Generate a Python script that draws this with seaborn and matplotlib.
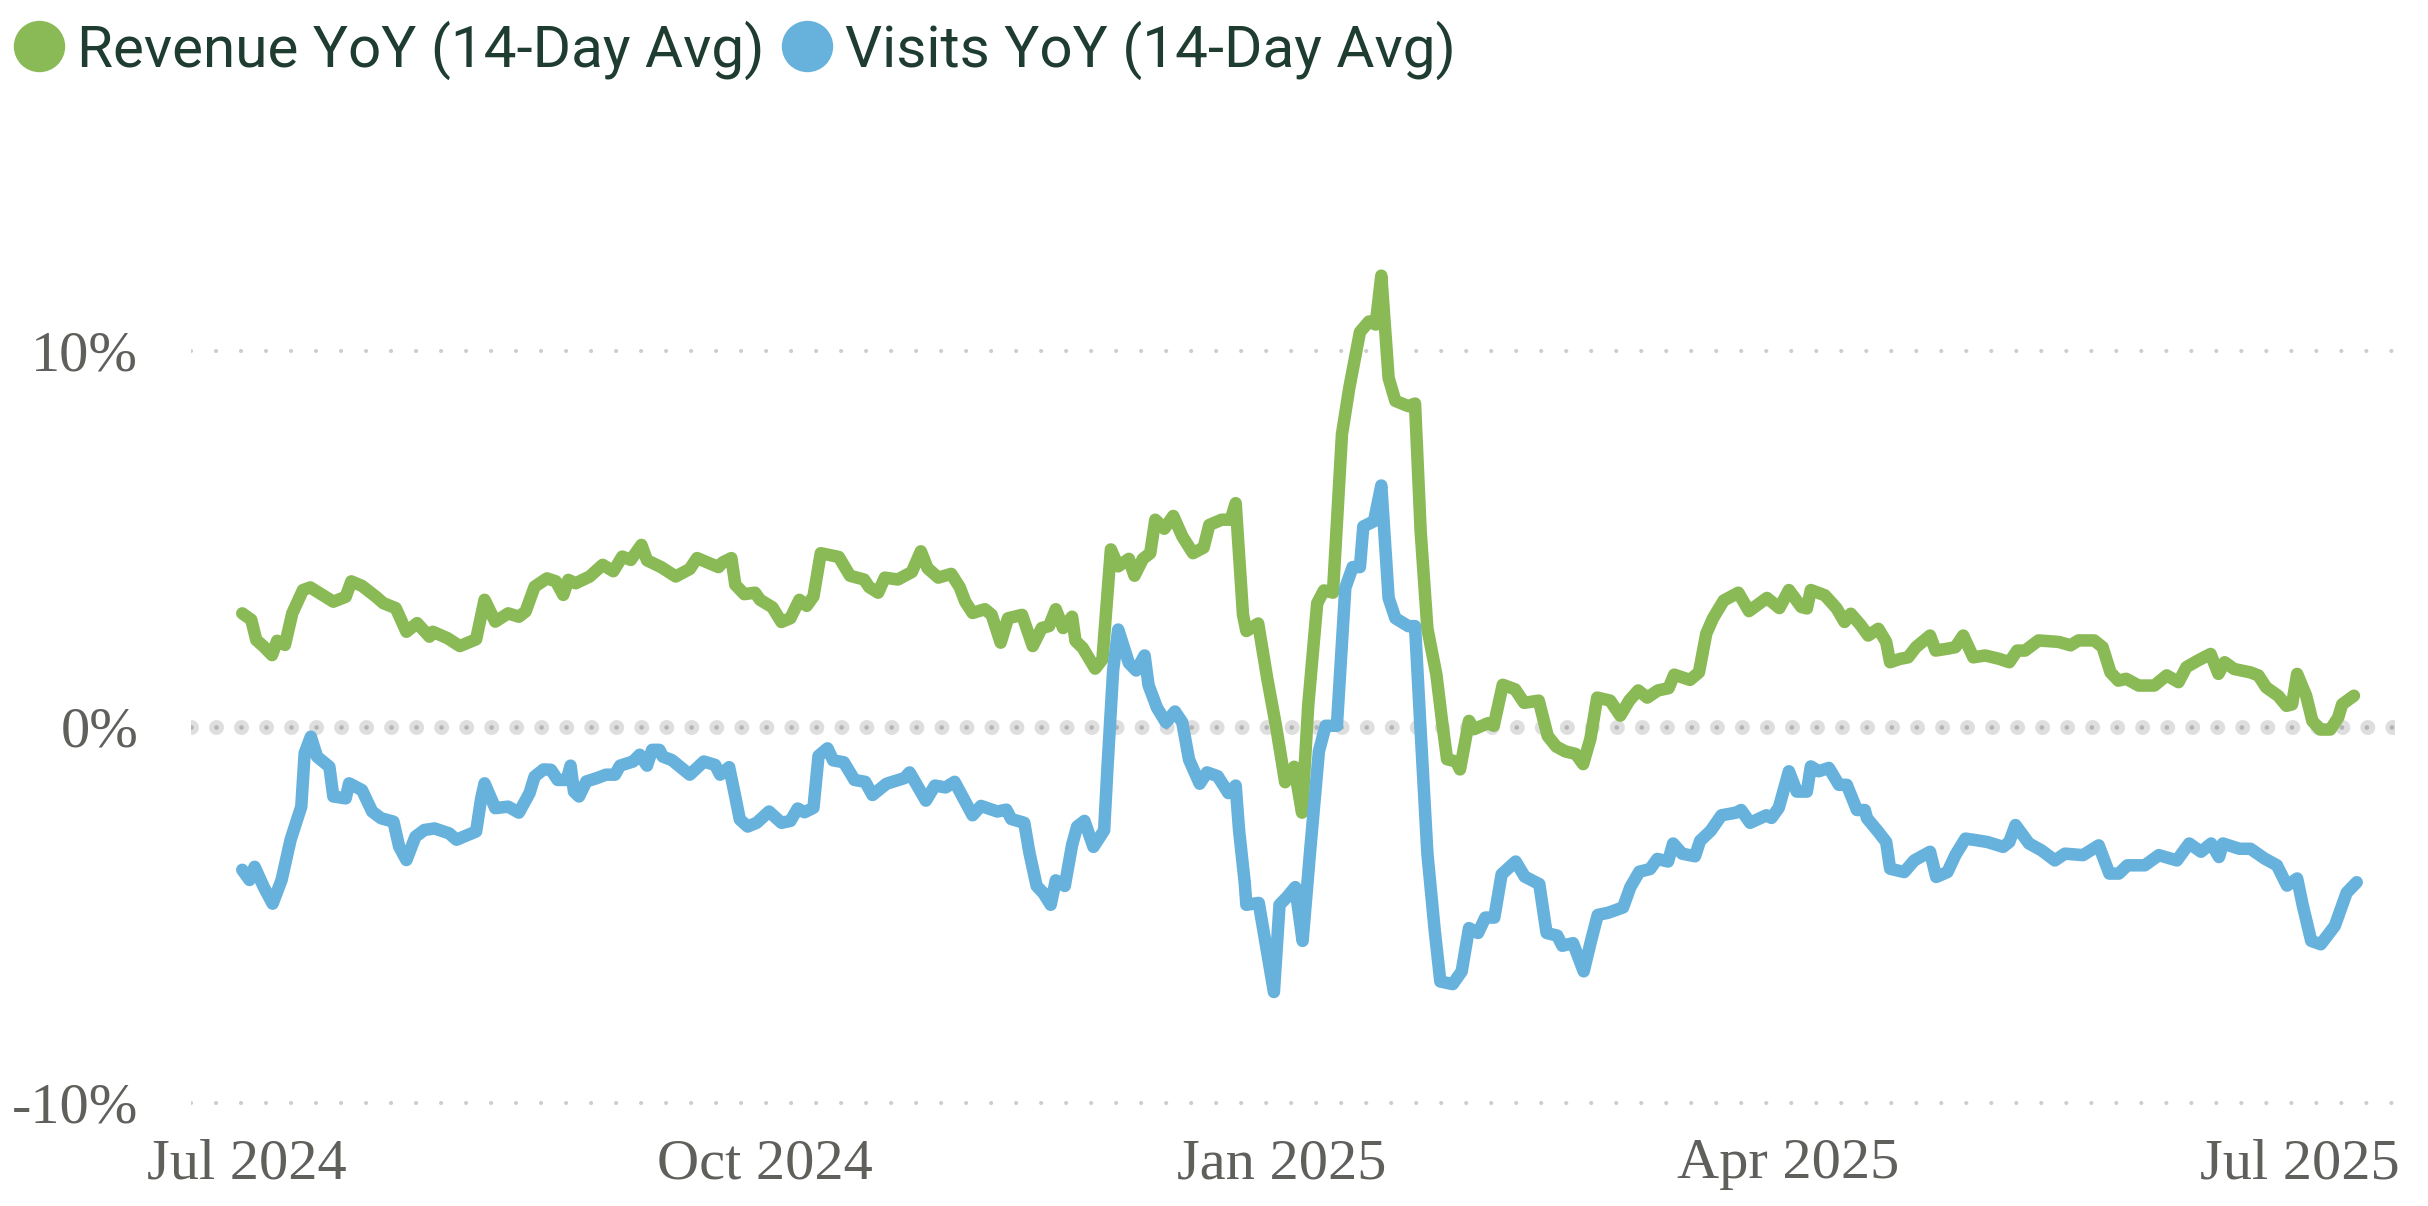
import pandas as pd
import matplotlib.pyplot as plt
import matplotlib.dates as mdates
import matplotlib.ticker as mticker
import seaborn as sns
from matplotlib.lines import Line2D

# Datos (dia = dias desde 2024-07-01, valores en %)
start = pd.Timestamp('2024-07-01')

rev_day = [-0.9, 0.7, 1.6, 2.9, 4.4, 5.3, 6.7, 8.0, 9.9, 11.2, 15.3, 17.5, 18.5, 20.4,
           22.9, 24.2, 26.4, 28.3, 30.2, 32.4, 33.0, 35.6, 37.8, 40.7, 42.2, 44.1, 46.4,
           48.3, 49.5, 51.1, 53.3, 54.9, 56.2, 57.1, 58.4, 60.9, 63.2, 65.1, 66.7, 68.2,
           70.1, 71.1, 73.6, 76.2, 78.7, 80.0, 83.8, 84.5, 86.1, 86.8, 88.4, 90.3, 91.2,
           93.4, 95.0, 96.6, 98.2, 99.5, 100.7, 102.0, 103.6, 105.2, 107.2, 109.7, 110.6,
           112.2, 113.4, 115.7, 118.2, 119.8, 121.0, 122.9, 125.2, 126.7, 127.7, 129.0,
           131.2, 132.4, 134.0, 135.3, 137.8, 139.7, 141.3, 142.6, 143.8, 145.1, 146.7,
           147.3, 148.6, 150.8, 152.1, 153.6, 154.9, 156.8, 157.8, 159.3, 160.6, 161.5,
           163.1, 164.7, 166.3, 168.2, 170.1, 171.1, 173.3, 174.9, 175.8, 177.1, 177.7,
           179.8, 181.4, 183.0, 184.6, 186.2, 187.6, 188.7, 190.3, 191.5, 193.1, 194.7,
           196.0, 197.9, 199.5, 200.7, 201.7, 203.0, 204.2, 206.5, 207.7, 208.7, 209.9,
           211.5, 212.5, 213.4, 215.0, 215.7, 217.3, 218.2, 220.7, 221.7, 223.3, 225.5,
           227.1, 229.7, 231.3, 232.8, 234.4, 236.3, 237.6, 238.9, 240.1, 242.4, 244.2,
           245.8, 247.4, 249.0, 250.9, 252.8, 253.8, 256.6, 258.2, 259.5, 260.7, 262.6,
           265.2, 267.1, 270.3, 272.5, 274.2, 276.4, 277.4, 278.1, 280.6, 282.7, 284.1,
           285.2, 287.0, 288.3, 290.1, 291.5, 292.2, 294.0, 295.4, 296.8, 299.3, 300.3,
           302.4, 303.8, 305.2, 307.0, 309.1, 311.6, 313.4, 314.8, 316.2, 318.6, 322.2,
           324.3, 325.7, 328.5, 330.0, 331.4, 332.8, 334.2, 336.4, 339.2, 341.4, 343.5,
           344.9, 347.0, 349.2, 350.6, 351.7, 353.4, 356.3, 357.7, 359.1, 361.2, 362.7,
           363.7, 364.6, 366.2, 367.3, 368.7, 370.5, 371.9, 372.6, 374.7]
rev_yoy = [3.02, 2.85, 2.31, 2.14, 1.91, 2.29, 2.18, 3.02, 3.64, 3.71, 3.33, 3.46, 3.87, 3.75,
           3.46, 3.29, 3.16, 2.53, 2.76, 2.40, 2.53, 2.36, 2.15, 2.33, 3.38, 2.80, 3.02,
           2.93, 3.07, 3.73, 3.95, 3.87, 3.51, 3.91, 3.82, 4.00, 4.31, 4.14, 4.53, 4.44,
           4.84, 4.43, 4.25, 4.00, 4.20, 4.49, 4.25, 4.37, 4.49, 3.78, 3.53, 3.57, 3.38,
           3.18, 2.79, 2.89, 3.38, 3.22, 3.47, 4.62, 4.57, 4.52, 4.02, 3.92, 3.72,
           3.57, 3.97, 3.92, 4.12, 4.67, 4.22, 3.97, 4.07, 3.72, 3.33, 3.03,
           3.13, 2.98, 2.24, 2.89, 2.98, 2.15, 2.63, 2.68, 3.13, 2.63, 2.93,
           2.29, 2.10, 1.55, 1.80, 4.72, 4.27, 4.47, 4.02, 4.47, 4.62, 5.51,
           5.27, 5.61, 5.07, 4.62, 4.77, 5.37, 5.51, 5.51, 5.95, 2.98, 2.55,
           2.75, 1.30, 0.00, -1.47, -1.06, -2.28, 0.57, 3.29, 3.63, 3.57, 7.78,
           9.01, 10.50, 10.78, 10.70, 12.00, 9.28, 8.67, 8.53, 8.60, 5.20, 2.61,
           1.39, 0.16, -0.86, -0.92, -1.13, 0.16, -0.06, 0.10, 0.03, 1.12, 1.00,
           0.64, 0.70, -0.24, -0.52, -0.65, -0.72, -0.99, -0.31, 0.78, 0.70, 0.30,
           0.70, 0.97, 0.78, 0.97, 1.03, 1.39, 1.25, 1.45, 2.48, 2.89, 3.36,
           3.57, 3.08, 3.43, 3.16, 3.64, 3.19, 3.15, 3.64, 3.50, 3.15, 2.79,
           3.01, 2.70, 2.43, 2.61, 2.26, 1.72, 1.81, 1.85, 2.12, 2.43, 2.03,
           2.08, 2.12, 2.43, 1.85, 1.90, 1.81, 1.72, 2.03, 2.03, 2.30, 2.26,
           2.17, 2.30, 2.30, 2.12, 1.45, 1.23, 1.28, 1.10, 1.10, 1.37, 1.19,
           1.59, 1.77, 1.94, 1.41, 1.72, 1.54, 1.45, 1.37, 1.05, 0.83, 0.56,
           0.60, 1.41, 0.83, 0.16, -0.07, -0.07, 0.25, 0.60, 0.83]

vis_day = [-0.9, 0.4, 1.3, 2.9, 4.5, 6.1, 7.7, 9.6, 10.2, 11.3, 12.4, 14.6, 15.3, 17.5,
           18.1, 20.4, 22.2, 23.8, 26.0, 27.0, 28.3, 29.9, 31.5, 33.3, 35.9, 37.2, 40.7,
           41.6, 42.2, 44.1, 46.4, 48.3, 50.2, 51.1, 52.7, 54.0, 55.2, 56.8, 57.5, 58.1,
           59.0, 60.3, 62.2, 63.8, 65.4, 66.3, 68.6, 69.8, 71.1, 72.0, 73.3, 73.9, 75.5,
           78.7, 81.2, 83.2, 84.1, 85.7, 86.8, 87.6, 89.0, 90.6, 92.8, 95.0, 96.6, 97.9,
           99.1, 100.7, 101.6, 103.2, 104.2, 106.1, 108.0, 109.9, 111.2, 113.7, 116.9,
           117.8, 120.7, 122.3, 124.2, 125.8, 126.7, 129.0, 130.5, 133.4, 135.0, 135.9,
           138.2, 139.1, 140.4, 141.6, 142.9, 143.8, 145.4, 146.7, 147.6, 148.9, 150.5,
           152.4, 153.0, 154.0, 154.9, 156.8, 158.1, 159.6, 160.3, 161.8, 163.4, 165.0,
           166.3, 167.5, 169.4, 170.7, 172.6, 174.5, 175.8, 176.4, 177.4, 177.7, 179.9,
           181.3, 182.6, 183.6, 184.9, 186.4, 187.7, 189.0, 190.6, 191.8, 193.8, 195.3,
           196.6, 197.9, 198.5, 200.4, 201.7, 202.3, 203.0, 204.2, 206.5, 207.7, 208.7,
           209.9, 211.2, 212.2, 214.4, 216.0, 217.3, 218.9, 220.2, 221.8, 223.1, 225.6,
           227.2, 229.8, 231.1, 233.0, 233.9, 235.8, 237.7, 239.0, 240.2, 242.1, 244.7,
           246.0, 247.6, 249.5, 250.8, 252.7, 253.6, 255.2, 257.5, 258.4, 260.3, 262.2,
           264.8, 265.7, 267.3, 270.2, 271.1, 272.4, 274.2, 275.6, 277.4, 278.1, 279.5,
           281.3, 283.1, 284.5, 286.3, 287.7, 288.1, 290.1, 291.5, 292.2, 294.7, 296.5,
           299.3, 300.4, 302.4, 303.8, 305.6, 307.4, 309.5, 312.3, 313.4, 314.5, 316.9,
           319.1, 321.5, 323.3, 326.5, 329.3, 331.2, 332.9, 334.4, 337.5, 340.0, 343.2,
           345.4, 347.5, 349.3, 350.7, 351.4, 354.3, 356.3, 358.8, 361.0, 362.8, 364.6,
           365.6, 367.1, 368.8, 371.3, 373.4, 375.2]
vis_yoy = [-3.80, -4.07, -3.72, -4.25, -4.70, -4.07, -3.00, -2.12, -0.70, -0.26, -0.79, -1.06, -1.85, -1.90,
           -1.50, -1.68, -2.25, -2.43, -2.52, -3.18, -3.54, -2.92, -2.74, -2.70, -2.83, -3.00, -2.78,
           -1.90, -1.50, -2.16, -2.12, -2.28, -1.76, -1.32, -1.13, -1.14, -1.41, -1.41, -1.03, -1.72,
           -1.85, -1.45, -1.36, -1.27, -1.27, -1.03, -0.92, -0.74, -1.03, -0.61, -0.61, -0.79, -0.88,
           -1.27, -0.92, -1.01, -1.27, -1.07, -1.86, -2.46, -2.65, -2.55, -2.25, -2.55, -2.50, -2.17,
           -2.27, -2.15, -0.77, -0.57, -0.89, -0.94, -1.41, -1.46, -1.81, -1.51, -1.36,
           -1.21, -1.96, -1.56, -1.61, -1.46, -1.71, -2.35, -2.10, -2.25, -2.20, -2.45,
           -2.55, -3.34, -4.23, -4.42, -4.73, -4.08, -4.23, -3.14, -2.65, -2.50, -3.19,
           -2.75, -1.07, 1.50, 2.59, 1.70, 1.50, 1.90, 1.11, 0.51, 0.12, 0.41,
           0.12, -0.87, -1.51, -1.21, -1.31, -1.76, -1.56, -2.75, -4.13, -4.73, -4.68,
           -5.90, -7.05, -4.73, -4.53, -4.26, -5.69, -3.37, -0.65, 0.03, 0.03, 3.70,
           4.25, 4.25, 5.33, 5.47, 6.42, 5.06, 3.43, 2.89, 2.68, 2.68, -0.11,
           -3.37, -5.41, -6.77, -6.84, -6.50, -5.35, -5.48, -5.07, -5.07, -3.92, -3.58,
           -3.98, -4.18, -5.48, -5.55, -5.82, -5.75, -6.50, -5.69, -5.00, -4.94, -4.80,
           -4.26, -3.85, -3.78, -3.51, -3.58, -3.10, -3.37, -3.44, -3.03, -2.76, -2.35,
           -2.28, -2.21, -2.55, -2.35, -2.42, -2.15, -1.18, -1.72, -1.72, -1.05, -1.18,
           -1.09, -1.54, -1.54, -2.21, -2.21, -2.43, -2.79, -3.06, -3.77, -3.86, -3.55,
           -3.32, -3.99, -3.86, -3.41, -2.97, -3.01, -3.06, -3.19, -3.06, -2.61, -3.10,
           -3.28, -3.55, -3.37, -3.41, -3.15, -3.90, -3.90, -3.68, -3.68, -3.41, -3.55,
           -3.10, -3.32, -3.10, -3.46, -3.10, -3.24, -3.24, -3.50, -3.68, -4.22, -4.03,
           -4.75, -5.69, -5.78, -5.29, -4.41, -4.13]

tick_dates = ['2024-07-01', '2024-10-01', '2025-01-01', '2025-04-01', '2025-07-01']
y_ticks = [-10, 0, 10]
series_labels = ['Revenue YoY (14-Day Avg)', 'Visits YoY (14-Day Avg)']
series_colors = ['#8aba56', '#66b2dc']

sns.set_style('white')
plt.rcParams['font.family'] = ['Liberation Serif', 'DejaVu Serif']

rev = pd.DataFrame({'date': start + pd.to_timedelta(rev_day, unit='D'), 'yoy': rev_yoy})
vis = pd.DataFrame({'date': start + pd.to_timedelta(vis_day, unit='D'), 'yoy': vis_yoy})

fig = plt.figure(figsize=(24.28, 12.06), dpi=100)
ax = fig.add_axes([0.0787, 0.0792, 0.9077, 0.792])

# lineas de referencia punteadas (puntos cada 25 px)
for y in y_ticks:
    if y == 0:
        ax.axhline(y, color='#dedede', lw=10.8, linestyle=(0, (0.001, 18 / 10.8)),
                   dash_capstyle='round', zorder=1)
        ax.axhline(y, color='#b4b4b4', lw=3.4, linestyle=(0, (0.001, 18 / 3.4)),
                   dash_capstyle='round', zorder=1)
    else:
        ax.axhline(y, color='#cdcdcd', lw=3.0, linestyle=(0, (0.001, 6.0)),
                   dash_capstyle='round', zorder=1)

sns.lineplot(data=rev, x='date', y='yoy', color=series_colors[0], linewidth=9,
             solid_capstyle='round', solid_joinstyle='round', ax=ax, zorder=3)
sns.lineplot(data=vis, x='date', y='yoy', color=series_colors[1], linewidth=9,
             solid_capstyle='round', solid_joinstyle='round', ax=ax, zorder=4)

ax.set_xlim(pd.Timestamp('2024-06-21'), pd.Timestamp('2025-07-18'))
ax.set_ylim(-10.2, 15.2)
ax.set_xticks(pd.to_datetime(tick_dates))
ax.xaxis.set_major_formatter(mdates.DateFormatter('%b %Y'))
ax.set_yticks(y_ticks)
ax.yaxis.set_major_formatter(mticker.FuncFormatter(lambda v, p: f'{v:.0f}%'))
ax.tick_params(axis='both', length=0, labelsize=42, labelcolor='#5f5f5c')
ax.tick_params(axis='x', pad=20)
ax.tick_params(axis='y', pad=38)
ax.set_xlabel('')
ax.set_ylabel('')
sns.despine(ax=ax, left=True, bottom=True)

handles = [Line2D([], [], marker='o', linestyle='', markersize=36,
                  markerfacecolor=c, markeredgecolor=c) for c in series_colors]
fig.legend(handles, series_labels, loc='center left', bbox_to_anchor=(14 / 2428, 1 - 50 / 1206),
           ncol=2, frameon=False, prop={'family': 'Roboto', 'size': 42},
           labelcolor='#1e3d30', handlelength=0.86, handletextpad=0.22,
           columnspacing=0.3, borderaxespad=0, borderpad=0)

fig.savefig('out.png', dpi=100)
plt.close()
